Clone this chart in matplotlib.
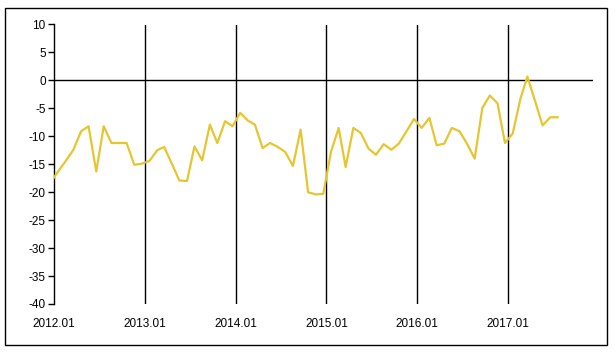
import matplotlib
matplotlib.use("Agg")
import matplotlib.pyplot as plt
import matplotlib.dates as mdates
from matplotlib.patches import Rectangle
import pandas as pd
import numpy as np

plt.rcParams['font.family'] = ['Liberation Sans', 'DejaVu Sans']

# monthly series, 2011.12 .. 2017.07 (first point lies just left of the axis and is clipped)
values = [-18.2,
          -16.2, -14.3, -12.4, -9.1, -8.2, -16.3, -8.2, -11.2, -11.2, -11.2, -15.1, -14.9,
          -14.4, -12.5, -11.9, -14.9, -17.9, -18.0, -11.8, -14.3, -7.9, -11.2, -7.3, -8.2,
          -5.8, -7.2, -7.9, -12.1, -11.2, -11.9, -12.8, -15.3, -8.8, -20.0, -20.4, -20.3,
          -12.8, -8.5, -15.5, -8.5, -9.4, -12.2, -13.3, -11.4, -12.4, -11.3, -9.1, -6.9,
          -8.5, -6.7, -11.6, -11.3, -8.5, -9.1, -11.3, -14.0, -4.9, -2.7, -4.1, -11.2,
          -9.5, -3.3, 0.7, -3.7, -8.05, -6.6, -6.6]
dates = pd.date_range('2011-12-01', periods=len(values), freq='MS') + pd.Timedelta(days=18)
tick_dates = pd.to_datetime(['2012-01-01', '2013-01-01', '2014-01-01',
                             '2015-01-01', '2016-01-01', '2017-01-01'])
tick_labels = ['2012.01', '2013.01', '2014.01', '2015.01', '2016.01', '2017.01']
y_ticks = [10, 5, 0, -5, -10, -15, -20, -25, -30, -35, -40]

W, H = 615, 356
fig = plt.figure(figsize=(W / 100, H / 100), dpi=100)
ax = fig.add_axes([54 / W, 1 - 304 / H, (593 - 54) / W, (304 - 24.5) / H])

ax.plot(dates, values, color='#E6C630', lw=1.6, zorder=3, clip_on=True)

ax.set_xlim(pd.Timestamp('2012-01-01'), pd.Timestamp('2017-12-08'))
ax.set_ylim(-40, 10)
ax.set_yticks(y_ticks)
ax.set_yticklabels([str(v) for v in y_ticks])
ax.set_xticks(tick_dates)
ax.set_xticklabels(tick_labels)

for d in tick_dates[1:]:
    ax.axvline(d, color='black', lw=1, zorder=1)
ax.axhline(0, color='black', lw=1, zorder=2)

for s in ['top', 'right', 'bottom']:
    ax.spines[s].set_visible(False)
ax.spines['left'].set_linewidth(1)
ax.spines['left'].set_color('black')

ax.tick_params(axis='y', direction='out', length=4, width=1, labelsize=8.5, pad=2, colors='black')
ax.tick_params(axis='x', length=0, labelsize=8.5, pad=10, colors='black')

fig.patches.append(Rectangle((5 / W, 1 - 345 / H), 602 / W, 337 / H,
                             transform=fig.transFigure, fill=False,
                             edgecolor='black', lw=1))

fig.savefig('out.png', dpi=100)
